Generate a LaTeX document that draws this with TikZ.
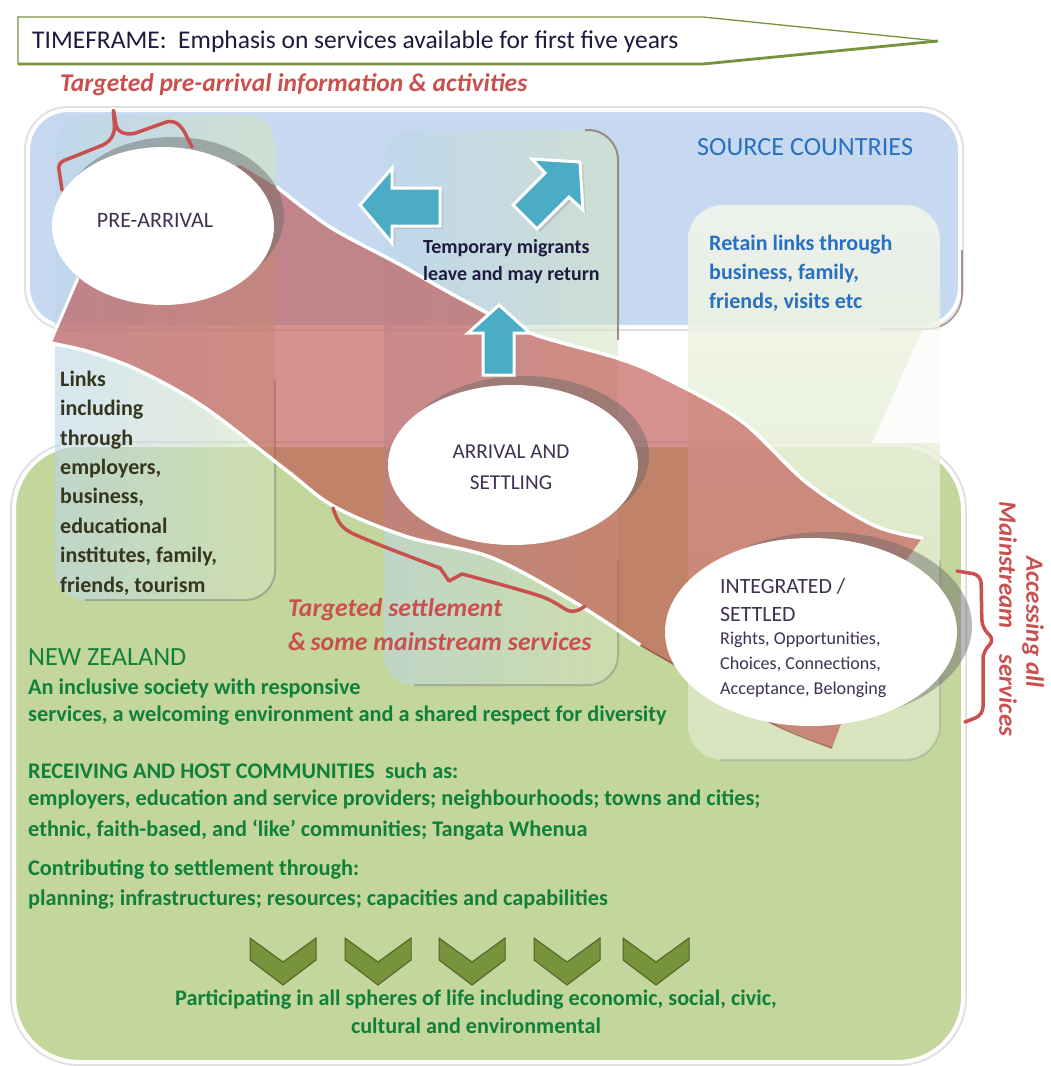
\documentclass[tikz,border=0pt]{standalone}
\usepackage{fontspec}
\setmainfont{Carlito}
\usetikzlibrary{shapes.geometric,calc}
\definecolor{bluepanel}{HTML}{C6D9F1}
\definecolor{greenpanel}{HTML}{C3D69B}
\definecolor{bandred}{HTML}{C0504D}
\definecolor{txtred}{HTML}{C9504F}
\definecolor{arrowblue}{HTML}{4BACC6}
\definecolor{olivegreen}{HTML}{77933C}
\definecolor{darkolive}{HTML}{4F6228}
\definecolor{navytext}{HTML}{1E1A40}
\definecolor{plumtext}{HTML}{3F3151}
\definecolor{srcblue}{HTML}{2A70C0}
\definecolor{nzgreen}{HTML}{10803A}
\definecolor{linkdark}{HTML}{36361E}
\definecolor{edgeshadow}{HTML}{8C6E6E}
\definecolor{colblue}{HTML}{BCD6E8}
\definecolor{colgreen}{HTML}{D4E4BC}
\newcommand\pxs[2]{\fontsize{#1}{#2}\selectfont}

\begin{document}
\begin{tikzpicture}[x=1pt,y=-1pt,
  txt/.style={inner sep=0pt, anchor=west},
  bubble/.style={ellipse, fill=white, draw=none, inner sep=0pt},
  ringshadow/.style={ellipse, fill=black!60, opacity=0.45, draw=none, inner sep=0pt},
  bluearrow/.style={fill=arrowblue, draw=white, line width=3pt, line join=miter},
  arrowshade/.style={fill=black!40, opacity=0.35},
  chevron/.style={fill=olivegreen, draw=darkolive, line width=1pt},
  brace/.style={draw=txtred, line width=3.5pt, line cap=round, line join=round},
  bodytext/.style={txt, text=nzgreen, font=\pxs{22.3}{24}\bfseries},
  sidetext/.style={text=txtred, font=\pxs{25}{27}\bfseries\itshape, rotate=-90, inner sep=0pt},
]
\useasboundingbox (0,0) rectangle (1050,1066);
\fill[white] (0,0) rectangle (1050,1066);

% ---- timeframe banner ----
\draw[olivegreen, line width=1.3pt, fill=white, line join=miter]
  (18,17) -- (703,17) -- (938,41) -- (703,64) -- (18,64) -- cycle;
\draw[olivegreen, line width=2.8pt] (18,64) -- (703,64) -- (938,41);
\node[txt, text=navytext, font=\pxs{25.5}{27}] (timeframe) at (32,42)
  {TIMEFRAME:\ \ Emphasis on services available for first five years};

% ---- source countries panel ----
\draw[black!12, line width=8pt, rounded corners=40] (28,110) rectangle (960,327);
\filldraw[fill=bluepanel, draw=white, line width=4pt, rounded corners=40] (28,110) rectangle (960,327);
\draw[edgeshadow, opacity=0.7, line width=1.6pt, rounded corners=35] (962,250) -- (962,329) -- (880,329);

% ---- New Zealand panel ----
\draw[black!12, line width=8pt, rounded corners=65] (14,445) rectangle (963,1062);
\filldraw[fill=greenpanel, draw=white, line width=4pt, rounded corners=65] (14,445) rectangle (963,1062);

% ---- translucent columns ----
\shade[rounded corners=30, left color=colblue, right color=colgreen, fill opacity=0.6]
  (55,115) rectangle (275,600);
\draw[black!55, opacity=0.45, line width=2pt, rounded corners=30] (275,380) -- (275,600) -- (85,600);

\shade[rounded corners=30, left color=colblue, right color=colgreen, fill opacity=0.55]
  (384,130) rectangle (618,685);
\draw[edgeshadow, opacity=0.75, line width=2pt, rounded corners=30] (585,130) -- (618,130) -- (618,340);
\draw[black!55, opacity=0.4, line width=2pt, rounded corners=30] (618,560) -- (618,685) -- (414,685);

\shade[rounded corners=35, top color=white!80!greenpanel, bottom color=white!40!greenpanel, fill opacity=0.85]
  (688,205) rectangle (940,760);
\fill[white, opacity=0.85] (922,330) -- (966,330) -- (966,443) -- (872,443) -- cycle;
\draw[black!45, opacity=0.35, line width=2pt, rounded corners=35] (940,560) -- (940,760) -- (720,760);

% ---- settlement band ----
\fill[bandred, fill opacity=0.62]
  (240,165) -- plot[smooth, tension=0.55] coordinates {(277,187) (330,227) (397,263) (463,300) (530,333) (617,358) (663,377) (740,420) (807,483) (873,525) (922,538)}
  -- (905,562) -- (850,700) -- (832,748)
  -- plot[smooth, tension=0.55] coordinates {(773,724) (697,678) (640,645) (571,600) (490,557) (408,537) (335,507) (286,470) (204,407) (140,371) (90,352) (50,343)}
  -- (78,278) -- (150,200) -- cycle;
\draw[white, line width=3.5pt, line cap=round]
  plot[smooth, tension=0.55] coordinates {(277,187) (330,227) (397,263) (463,300) (530,333) (617,358) (663,377) (740,420) (807,483) (873,525) (922,538)};
\draw[white, line width=3.5pt, line cap=round]
  plot[smooth, tension=0.55] coordinates {(640,645) (571,600) (490,557) (408,537) (335,507) (286,470) (204,407) (140,371) (90,352) (50,343)};
\draw[white, line width=3pt] (50,343) -- (78,278);
\draw[bandred!70!black, opacity=0.6, line width=1.5pt]
  plot[smooth, tension=0.55] coordinates {(832,748) (773,724) (697,678) (640,645)};

% ---- stage bubbles ----
\node[ringshadow, minimum width=222, minimum height=158] (preshadow) at (173,216) {};
\node[bubble, minimum width=222, minimum height=158] (pre) at (163,226) {};
\node[ringshadow, minimum width=250, minimum height=160] (arrshadow) at (524,456) {};
\node[bubble, minimum width=250, minimum height=160] (arr) at (513,465) {};
\node[ringshadow, minimum width=292, minimum height=188] (intshadow) at (826,626) {};
\node[bubble, minimum width=292, minimum height=188] (int) at (811,632) {};

\node[text=plumtext, font=\pxs{22}{24}] (pretext) at (155,220) {PRE-ARRIVAL};
\node[text=plumtext, font=\pxs{21.2}{31}, align=center] (arrtext) at (511,467) {ARRIVAL AND\\SETTLING};
\node[txt, text=plumtext, font=\pxs{21.8}{28}, align=left] (inttitle) at (720,600) {INTEGRATED /\\SETTLED};
\node[txt, text=plumtext, font=\pxs{18.1}{25}, align=left] (intbody) at (720,665)
  {Rights, Opportunities,\\Choices, Connections,\\Acceptance, Belonging};

% ---- migration arrows ----
\fill[arrowshade] (363,208) -- (395,171) -- (395,191) -- (443,191) -- (443,229) -- (395,229) -- (395,246) -- cycle;
\draw[bluearrow] (360,205) -- (392,168) -- (392,188) -- (440,188) -- (440,226) -- (392,226) -- (392,243) -- cycle;
\fill[arrowshade] (583,165) -- (535,162) -- (548,176) -- (516,208) -- (540,232) -- (572,200) -- (586,213) -- cycle;
\draw[bluearrow] (580,162) -- (532,159) -- (545,173) -- (513,205) -- (537,229) -- (569,197) -- (583,210) -- cycle;
\fill[arrowshade] (502,308) -- (533,336) -- (517,336) -- (517,378) -- (486,378) -- (486,336) -- (471,336) -- cycle;
\draw[bluearrow] (499,305) -- (530,333) -- (514,333) -- (514,375) -- (483,375) -- (483,333) -- (468,333) -- cycle;

% ---- braces ----
\draw[brace, rounded corners=6] (62,190) -- (58,163) -- (108,143) -- (115,132) -- (113,107) -- (117,131) -- (130,135) -- (172,120) -- (182,127) -- (192,147);
\draw[brace] plot[smooth, tension=0.6] coordinates {(333,508) (343,527) (370,541) (440,568)} -- (449,581) -- plot[smooth, tension=0.6] coordinates {(462,574) (540,596) (570,611) (585,606)};
\draw[brace, rounded corners=8] (957,571) -- (981,575) -- (982,628) -- (995,640) -- (983,651) -- (983,715) -- (965,722);

% ---- texts ----
\node[txt, text=txtred, font=\pxs{25.5}{27}\bfseries\itshape] (prearrivalinfo) at (60,85) {Targeted pre-arrival information \& activities};
\node[txt, text=srcblue, font=\pxs{26.2}{28}] (source) at (697,147) {SOURCE COUNTRIES};
\node[txt, text=navytext, font=\pxs{20}{27}\bfseries, align=left] (temporary) at (423,262) {Temporary migrants\\leave and may return};
\node[txt, text=srcblue, font=\pxs{22}{29}\bfseries, align=left] (retain) at (709,273) {Retain links through\\business, family,\\friends, visits etc};
\node[txt, text=linkdark, font=\pxs{22}{29.4}\bfseries, align=left] (links) at (60,483)
  {Links\\including\\through\\employers,\\business,\\educational\\institutes, family,\\friends, tourism};
\node[txt, text=txtred, font=\pxs{25.7}{34}\bfseries\itshape, align=left] (targetedsettle) at (288,625)
  {Targeted settlement\\\&\,some mainstream services};

\node[txt, text=nzgreen, font=\pxs{26.2}{28}] (nz) at (28,657) {NEW ZEALAND};
\node[bodytext] (nz1) at (28,688) {An inclusive society with responsive};
\node[bodytext] (nz2) at (28,716) {services, a welcoming environment and a shared respect for diversity};
\node[bodytext] (host) at (28,771) {RECEIVING AND HOST COMMUNITIES\ \ such as:};
\node[bodytext] (host1) at (28,800) {employers, education and service providers; neighbourhoods; towns and cities;};
\node[bodytext] (host2) at (28,830) {ethnic, faith-based, and ‘like’ communities; Tangata Whenua};
\node[bodytext] (contrib) at (28,870) {Contributing to settlement through:};
\node[bodytext] (contrib1) at (28,900) {planning; infrastructures; resources; capacities and capabilities};

\foreach \cx in {283,378,472,567,656}
  \draw[chevron] (\cx-33,938) -- (\cx,962) -- (\cx+33,938) -- (\cx+33,960) -- (\cx,985) -- (\cx-33,960) -- cycle;

\node[text=nzgreen, font=\pxs{22.2}{28}\bfseries, align=center] (participating) at (476,1012)
  {Participating in all spheres of life including economic, social, civic,\\cultural and environmental};

\node[sidetext] (accessing) at (1033,622) {Accessing all};
\node[sidetext] (mainstream) at (1008,619) {Mainstream\hspace{26pt}services};
\end{tikzpicture}
\end{document}
